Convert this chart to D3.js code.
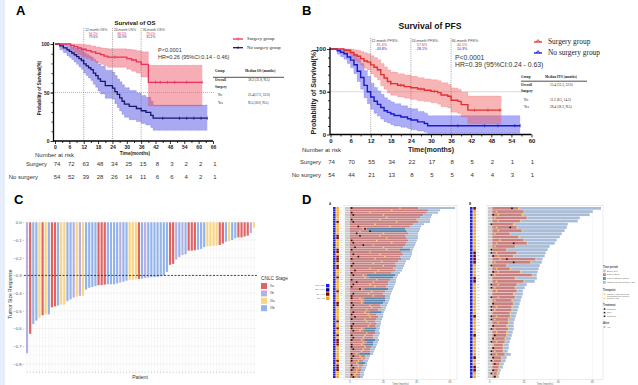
<!DOCTYPE html>
<html><head><meta charset="utf-8">
<script src="https://cdn.jsdelivr.net/npm/d3@7"></script>
<style>body{margin:0;background:#fff}svg{display:block}</style>
</head><body><svg id="c" width="638" height="385"></svg>
<script>
// ---------------- DATA ----------------
// Panel A: OS Kaplan-Meier (time in months, survival %)
const osSurgT=[0,6.5,8,9.5,11,13,15,17,19,20.5,22,30,32,34,36,39];
const osSurgS=[100,98.6,97.3,95.9,94.6,93.2,91.8,90.4,89,87.6,86.5,85,83.5,81.5,79,60.5];
const osSurgU=[100,100,100,100,99.5,99,98,97,96,95.5,95,94.5,94,93,92,78];
const osSurgL=[100,94,91.5,89,87,85,83,81,79,77.5,76,74,72,70,66,36];
const osSurgEnd=61.5, osSurgCens=[25,42,44,47,50,55,61.5];
const osNoT=[0,2,3.5,5,6,7,8,9,10,11,12,13,14,15,16,17,18,19,21,24,25,26,27,28,29,31,34,36,38,40,41];
const osNoS=[100,98,96,94,92.5,90.7,88.9,87,85,83,79.6,77.5,75.5,73.5,70,67.5,64,61.5,57,54.5,51,48,44.5,41,38,35.7,33.5,31.2,29.6,26.5,23.5];
const osNoU=[100,100,100,99,98,97,96,95,94,93,91,89.5,88,86.5,84,82,79.5,77,73,71,67.5,64,61,58,55,52,49.5,47,45,41,37];
const osNoL=[100,94,91,88,86,84,81.5,79,76.5,74,70,67.5,65,62.5,58.5,55.5,51.5,48.5,44,43,38.5,34.5,31,27.5,24.5,22,20,18,16.5,14,11];
const osNoEnd=63.6, osNoCens=[45,52,55,58,61,63.6];
const osRiskTimes=[0,6,12,18,24,30,36,42,48,54,60,66];
const osRiskSurg=[74,72,63,48,34,25,15,8,3,2,2,1];
const osRiskNo=[54,52,39,28,26,14,11,6,6,4,2,1];
const osMarks=[12,24,36];
const osMarkSurg=["94.2%","86.5%","79.0%"], osMarkNo=["79.6%","56.9%","31.2%"];
const osTable=[["Overall","38.3 (31.8, NA)"],["Surgery",""],["No","25.4(17.3, 33.0)"],["Yes","NA (30.0, NA)"]];

// Panel B: PFS Kaplan-Meier
const pfsSurgT=[0,4,6,7,8,9,10,11,12,13,14,15,16,17,18,20,22,24,26,28,30,32,33,35,36,38,39,41];
const pfsSurgS=[100,98.6,95.8,93,91.6,88.8,86,84.6,81.4,78.6,75.8,70,66,62,59.5,57.6,56,54.6,53.2,51.8,50.4,49,46.2,44.8,40.1,38.7,35,28.5];
const pfsSurgU=[100,100,100,99,98.5,97,95.5,94.5,92,90,87.5,83,79,75.5,73,71,69.5,68,66.5,65,64,63,60.5,58.5,54.5,53,49.5,45];
const pfsSurgL=[100,95,90,86.5,84.5,81,77.5,75.5,71,67.5,64,57,53,48.5,46,44,42.5,41,39.5,38.5,37,35.5,32.5,31,26,24.5,20.5,12.5];
const pfsSurgEnd=51, pfsSurgCens=[18,21,27,31,43,47,50.5];
const pfsNoT=[0,2,3,4,5,6,7,8,9,10,11,12,13,14,15,16,17,18,19,21,23,24,26,28,29];
const pfsNoS=[100,98,96.2,94.4,90.7,87,81.5,74,66.7,57.4,50,43.8,38.9,35.2,31.5,27.8,25.9,24,22.2,20.4,18.5,17,14.8,12.8,10.3];
const pfsNoU=[100,100,100,100,99,97,94,89,83,75,68,60,55,51,47,43,40,38,36,33.5,31,30,27,25,22];
const pfsNoL=[100,94,91,88,83,78,71,62,53,43,36,29.5,25,21.5,18,15,13.5,11.5,10,8.5,7,5.5,4,2.5,1.5];
const pfsNoEnd=56.6, pfsNoCens=[38,46,50,55,56.6];
const pfsRiskTimes=[0,6,12,18,24,30,36,42,48,54,60];
const pfsRiskSurg=[74,70,55,34,22,17,8,5,2,1,1];
const pfsRiskNo=[54,44,21,13,8,5,5,4,4,3,1];
const pfsMarks=[12,24,36];
const pfsMarkSurg=["81.4%","57.6%","40.1%"], pfsMarkNo=["43.8%","28.1%","10.3%"];
const pfsTable=[["Overall","15.4 (13.3, 22.0)"],["Surgery",""],["No","11.2 (8.5, 14.2)"],["Yes","28.4 (18.3, NA)"]];

// Panel C: waterfall
const tumorResponse=[-0.74,-0.63,-0.575,-0.555,-0.54,-0.525,-0.52,-0.52,-0.48,-0.475,-0.47,-0.465,-0.465,-0.445,-0.435,-0.425,-0.42,-0.415,-0.415,-0.38,-0.37,-0.365,-0.36,-0.355,-0.355,-0.352,-0.35,-0.35,-0.35,-0.345,-0.34,-0.335,-0.33,-0.325,-0.325,-0.322,-0.32,-0.318,-0.315,-0.312,-0.31,-0.31,-0.308,-0.305,-0.3,-0.28,-0.24,-0.235,-0.21,-0.195,-0.185,-0.18,-0.16,-0.16,-0.158,-0.155,-0.15,-0.14,-0.135,-0.135,-0.132,-0.13,-0.128,-0.12,-0.11,-0.105,-0.1,-0.09,-0.085,-0.085,-0.08,-0.075,-0.06,-0.03];
const cnlcStage=["IIb","IIa","IIIb","IIIb","IIIa","IIa","IIIa","IIIb","IIa","IIa","IIIb","IIIa","IIIa","IIIb","IIIb","IIb","IIIa","IIb","IIIa","IIIb","IIIb","IIIb","IIIb","IIa","IIa","IIa","IIIb","IIIb","IIIb","IIIb","IIb","IIIb","IIIb","IIIa","IIIa","IIIa","IIa","IIIb","IIb","IIIb","IIIb","IIIb","IIIb","IIIb","IIIb","IIIb","IIa","IIa","IIb","IIIb","IIb","IIIb","IIa","IIa","IIa","IIIb","IIIb","IIIb","IIIa","IIIa","IIIa","IIIa","IIa","IIa","IIIb","IIIa","IIIb","IIIb","IIa","IIa","IIa","IIa","IIb","IIIa"];
const stageNames=["IIa","IIb","IIIa","IIIb"];
const yTicksC=[0,-0.1,-0.2,-0.3,-0.4,-0.5,-0.6,-0.7,-0.8];

// Panel D: swimmer plots
const leftEnd=[63,54,52.8,49.2,48.6,48,48,44.4,42.6,42,41.4,40.8,40.8,40.8,40.2,39.6,39,38.4,37.8,37.2,37.2,36.6,36,33.6,33,32.4,31.8,31.2,30,28.8,28.2,27.6,27.6,27,26.4,25.8,25.2,24.6,24,24,23.4,22.8,22.2,21.6,21,20.4,19.8,19.8,19.2,18.6,18.6,18,18,17.4,18,17.4,16.8,17.4,16.8,16.2,15.6,15,14.4,13.8,12,11.4,10.8,10.2,10.2,9.6,9,8.4,8.4,7.8];
const leftRedEnd=[41,47,46,44,42,40,41,38,36,10,12,35,33,34,35,34,33,32,30,31,32,30,31,29,27,28,26,27,25,10,11,24,23,23,22,9,21,20,21,8,9,8,18,19,17,12,16,17,16,15,16,15,9,8,15,14,14,9,10,9,13,12,12,6,9,9,8,5,8,7,7,6,6,6];
const leftBlueEnd=[0,0,0,0,0,0,0,0,0,33,34,0,0,0,0,0,0,0,36,0,0,0,0,0,0,0,0,0,0,27,26,0,0,0,0,23,0,0,0,21,21,20,0,0,0,19,0,0,0,0,0,0,16,15,0,0,0,15,14,14,0,0,0,12,0,0,0,9,0,0,0,0,0,0];
const leftYellow=[30,25,12,20,22,18,28,15,24,8,6,20,18,22,16,25,14,20,22,12,18,21,15,19,14,20,12,17,15,8,9,16,14,12,15,7,13,11,14,6,7,7,12,13,10,9,11,12,9,10,12,11,7,6,10,9,8,7,8,7,9,8,7,4,6,7,5,4,5,5,4,4,3,4];
const leftBlack=[1,null,1,2,null,1,2,null,5,9,12,4,6,null,1,2,8,3,1,null,2,5,1,null,2,1,null,3,1,2,null,1,4,2,1,6,null,2,1,1,null,1,2,1,null,2,1,3,1,null,2,1,1,2,null,1,2,1,null,1,1,2,null,1,2,1,1,null,1,2,1,null,1,2];
const leftDarkRows=[6,12,13,18,19,21,22,23,25,26,30,36,41,42,49,52,55,57,58,59,66,68,69,70];
const rightEnd=[65,60.2,58.4,52.6,51.4,45.6,45,43.8,42.1,40.9,39.1,38,35,33.9,32.7,32.1,30.9,30.4,29.2,28.6,28,27.5,27.5,26.3,21.6,20.4,19.3,19.3,18.7,18.1,17.5,17,16.4,15.8,15.2,14.6,14,14,14,13.4,12.9,12.3,11.7,11.1,11.1,10.5,12.3,9.9,9.3,8.2,7.6,6.4,5.8,5.3];
const rightRedEnd=[17,20,19,22,18,14,16,19,12,17,20,22,15,10,16,14,27,24,10,12,18,25,15,20,16,15,16,14,15,13,14,13,13,12,12,11,11,10,11,10,10,9,9,8,8,8,9,7,7,6,5.5,5,4.5,4];
const rightYellow2=[null,4,5,3,5,null,4,5,3,null,6,4,3,null,4,5,6,3,null,4,5,3,null,4,5,3,4,null,5,3,null,4,3,null,4,3,5,null,3,4,null,3,4,2,null,3,4,null,2,3,null,2,2,null];
const rightBlack=[13,null,2,null,null,1,12,null,null,null,null,14,null,1,1,2,10,14,1,null,2,1,null,null,1,1,null,null,1,null,2,1,1,null,1,1,null,2,1,null,3,2,1,null,2,1,1,2,1,3,null,2,1,3];
const rightDarkRows=[0,14,15,16,17,22,23,34,40,47,50,51];
const swimTicks=[0,20,40,60];
const stripLegend=[["Sex: Male","#1a1aff"],["Sex: Fem.","#000080"],["SLA: Yes","#8b0000"],["SLA: No","#ffa500"]];
const periodLegend=[["Before SLa","#c9c9c9"],["Before PD/LT","#c98080"],["Post TACE after surgery","#5b86ad"],["Change PD after surgery / OS","#a9bcd8"]];

// ---------------- HELPERS ----------------
const SANS='"Liberation Sans", Arial, sans-serif', SERIF='"Liberation Serif", "Times New Roman", serif';
const svg=d3.select("#c");
svg.append("rect").attr("width",638).attr("height",385).attr("fill","#fff");
svg.append("rect").attr("x",0).attr("y",0).attr("width",5).attr("height",385).attr("fill","#e6eef9");
function txt(g,x,y,s,o={}){
  const t=g.append("text").attr("x",x).attr("y",y).text(s)
    .attr("font-size",o.size||5).attr("fill",o.fill||"#222")
    .attr("text-anchor",o.anchor||"start").attr("dominant-baseline",o.base||"middle")
    .style("font-family",o.family||SANS);
  if(o.bold)t.attr("font-weight","bold");
  if(o.rotate)t.attr("transform",`rotate(${o.rotate},${x},${y})`);
  return t;
}
function stepAt(T,S,t){let v=S[0];for(let i=0;i<T.length;i++){if(T[i]<=t)v=S[i];}return v;}
function kmData(T,S,U,L,end){const p=T.map((t,i)=>({t,s:S[i],u:U[i],l:L[i]}));const last=p[p.length-1];p.push({t:end,s:last.s,u:last.u,l:last.l});return p;}
function drawBand(g,x,y,pts,fill,stroke){
  g.append("path").attr("d",d3.area().curve(d3.curveStepAfter).x(d=>x(d.t)).y0(d=>y(d.l)).y1(d=>y(d.u))(pts))
   .attr("fill",fill).attr("fill-opacity",0.45);
  ["u","l"].forEach(k=>g.append("path").attr("d",d3.line().curve(d3.curveStepAfter).x(d=>x(d.t)).y(d=>y(d[k]))(pts))
   .attr("fill","none").attr("stroke",stroke).attr("stroke-width",0.5).attr("stroke-dasharray","0.8,0.8").attr("opacity",0.8));
}
function drawCurve(g,x,y,pts,col,T,S,cens,w){
  g.append("path").attr("d",d3.line().curve(d3.curveStepAfter).x(d=>x(d.t)).y(d=>y(d.s))(pts))
   .attr("fill","none").attr("stroke",col).attr("stroke-width",w);
  cens.forEach(c=>{const v=stepAt(T,S,c);g.append("line").attr("x1",x(c)).attr("x2",x(c)).attr("y1",y(v)-1.6).attr("y2",y(v)+1.6).attr("stroke",col).attr("stroke-width",0.7);});
}
function kmAxes(g,x,y,xt,xm,x0,fs){
  const y0=y(0);
  const a=g.append("g").attr("transform",`translate(0,${y0})`).call(d3.axisBottom(x).tickValues(xt).tickSize(3).tickPadding(1));
  a.select(".domain").remove();
  a.selectAll("text").attr("font-size",fs).attr("font-weight","bold").attr("fill","#222").style("font-family",SANS);
  const m=g.append("g").attr("transform",`translate(0,${y0})`).call(d3.axisBottom(x).tickValues(xm).tickSize(2).tickFormat(""));
  m.select(".domain").remove();
  g.append("line").attr("x1",x0).attr("x2",x(xt[xt.length-1])).attr("y1",y0).attr("y2",y0).attr("stroke","#000").attr("stroke-width",1.3);
  const b=g.append("g").attr("transform",`translate(${x0},0)`).call(d3.axisLeft(y).tickValues([0,50,100]).tickSize(3).tickPadding(1));
  b.select(".domain").remove();
  b.selectAll("text").attr("font-size",fs).attr("font-weight","bold").attr("fill","#222").style("font-family",SANS);
  const bm=g.append("g").attr("transform",`translate(${x0},0)`).call(d3.axisLeft(y).tickValues(d3.range(10,100,10)).tickSize(2).tickFormat(""));
  bm.select(".domain").remove();
  g.append("line").attr("x1",x0).attr("x2",x0).attr("y1",y(0)+0.6).attr("y2",y(102)).attr("stroke","#000").attr("stroke-width",1.3);
  g.selectAll(".tick line").attr("stroke","#000").attr("stroke-width",0.8);
}

// ---------------- PANEL A ----------------
const gA=svg.append("g");
txt(gA,16,12,"A",{size:13,bold:true,fill:"#000"});
const xA=d3.scaleLinear().domain([0,66]).range([55,213]);
const yA=d3.scaleLinear().domain([0,100]).range([141,44]);
txt(gA,135,23,"Survival of OS",{size:6,bold:true,anchor:"middle",fill:"#111"});
const osS=kmData(osSurgT,osSurgS,osSurgU,osSurgL,osSurgEnd), osN=kmData(osNoT,osNoS,osNoU,osNoL,osNoEnd);
drawBand(gA,xA,yA,osN,"#4040e0","#4040e0");
drawBand(gA,xA,yA,osS,"#ea4a5a","#ea4a5a");
gA.append("line").attr("x1",xA(0)).attr("x2",215).attr("y1",yA(50)).attr("y2",yA(50)).attr("stroke","#888").attr("stroke-width",0.6).attr("stroke-dasharray","1,1");
osMarks.forEach((m,i)=>{
  gA.append("line").attr("x1",xA(m)).attr("x2",xA(m)).attr("y1",28).attr("y2",yA(0)).attr("stroke","#666").attr("stroke-width",0.6).attr("stroke-dasharray","1,1.2");
  txt(gA,xA(m)+1.5,30,m+"-month OS%:",{size:3.2,fill:"#444"});
  txt(gA,xA(m)+5,33.8,osMarkSurg[i],{size:3.2,fill:"#e8325a"});
  txt(gA,xA(m)+5,37.4,osMarkNo[i],{size:3.2,fill:"#2a2aa0"});
});
drawCurve(gA,xA,yA,osN,"#16166e",osNoT,osNoS,osNoCens,1.3);
drawCurve(gA,xA,yA,osS,"#e8325a",osSurgT,osSurgS,osSurgCens,1.3);
kmAxes(gA,xA,yA,d3.range(0,67,6),d3.range(3,67,6),53.5,5);
txt(gA,40,88,"Probability of Survival(%)",{size:4.5,bold:true,anchor:"middle",rotate:-90,fill:"#222"});
txt(gA,135,154,"Time(months)",{size:4.6,bold:true,anchor:"middle"});
[["Surgery group","#e8325a",39],["No surgery group","#16166e",47.7]].forEach(d=>{
  gA.append("line").attr("x1",233).attr("x2",243).attr("y1",d[2]).attr("y2",d[2]).attr("stroke",d[1]).attr("stroke-width",1.3);
  gA.append("line").attr("x1",238).attr("x2",238).attr("y1",d[2]-1.5).attr("y2",d[2]+1.5).attr("stroke",d[1]).attr("stroke-width",0.7);
  txt(gA,247,d[2],d[0],{size:4.8,family:SERIF,fill:"#222"});
});
txt(gA,158,51,"P<0.0001",{size:5.5,fill:"#333"});
txt(gA,158,57.3,"HR=0.26 (95%CI:0.14 - 0.46)",{size:5.5,fill:"#333"});
txt(gA,215,71.7,"Group",{size:3.4,bold:true,family:SERIF});
txt(gA,245,71.7,"Median OS (months)",{size:3.4,bold:true,family:SERIF});
gA.append("line").attr("x1",213).attr("x2",284).attr("y1",77.3).attr("y2",77.3).attr("stroke","#222").attr("stroke-width",0.8);
[80.5,87.7,95.7,103.3].forEach((yy,i)=>{
  const r=osTable[i];
  txt(gA,i>1?218:215,yy,r[0],{size:3.4,bold:i<2,family:SERIF});
  if(r[1])txt(gA,248,yy,r[1],{size:3.4,family:SERIF});
});
txt(gA,35,155.7,"Number at risk",{size:6,fill:"#333"});
txt(gA,47,164,"Surgery",{size:6,anchor:"end",fill:"#333"});
txt(gA,38,177,"No surgery",{size:6,anchor:"end",fill:"#333"});
osRiskTimes.forEach((t,i)=>{
  txt(gA,xA(t)+2,164,osRiskSurg[i],{size:6,anchor:"middle",fill:"#333"});
  txt(gA,xA(t)+2,177,osRiskNo[i],{size:6,anchor:"middle",fill:"#333"});
});

// ---------------- PANEL B ----------------
const gB=svg.append("g");
txt(gB,302,12,"B",{size:13,bold:true,fill:"#000"});
const xB=d3.scaleLinear().domain([0,60]).range([330.5,531.5]);
const yB=d3.scaleLinear().domain([0,100]).range([134.5,49]);
txt(gB,430,27,"Survival of PFS",{size:8.6,bold:true,anchor:"middle",fill:"#111"});
const pS=kmData(pfsSurgT,pfsSurgS,pfsSurgU,pfsSurgL,pfsSurgEnd), pN=kmData(pfsNoT,pfsNoS,pfsNoU,pfsNoL,pfsNoEnd);
drawBand(gB,xB,yB,pN,"#4848f0","#4848f0");
drawBand(gB,xB,yB,pS,"#f05a5a","#f05a5a");
gB.append("line").attr("x1",xB(0)).attr("x2",531).attr("y1",yB(50)).attr("y2",yB(50)).attr("stroke","#888").attr("stroke-width",0.6).attr("stroke-dasharray","1,1");
pfsMarks.forEach((m,i)=>{
  gB.append("line").attr("x1",xB(m)).attr("x2",xB(m)).attr("y1",38).attr("y2",yB(0)).attr("stroke","#666").attr("stroke-width",0.6).attr("stroke-dasharray","1,1.2");
  txt(gB,xB(m)+0.5,41,m+"-month PFS%:",{size:3.6,fill:"#444"});
  txt(gB,xB(m)+6,44.8,pfsMarkSurg[i],{size:3.6,fill:"#e03030"});
  txt(gB,xB(m)+6,48.6,pfsMarkNo[i],{size:3.6,fill:"#2020c0"});
});
drawCurve(gB,xB,yB,pN,"#1a1acc",pfsNoT,pfsNoS,pfsNoCens,1.4);
drawCurve(gB,xB,yB,pS,"#e03030",pfsSurgT,pfsSurgS,pfsSurgCens,1.4);
kmAxes(gB,xB,yB,d3.range(0,61,6),d3.range(3,61,6),330,6);
txt(gB,314,92,"Probability of Survival(%)",{size:7,bold:true,anchor:"middle",rotate:-90,fill:"#222"});
txt(gB,431,150,"Time(months)",{size:7,bold:true,anchor:"middle"});
[["Surgery group","#e03030",42],["No surgery group","#1a1acc",53]].forEach(d=>{
  gB.append("line").attr("x1",534).attr("x2",542).attr("y1",d[2]).attr("y2",d[2]).attr("stroke",d[1]).attr("stroke-width",1.3);
  gB.append("path").attr("d",`M536,${d[2]}L538,${d[2]-2.4}L540,${d[2]}`).attr("fill","none").attr("stroke",d[1]).attr("stroke-width",0.9);
  txt(gB,548,d[2],d[0],{size:7.4,family:SERIF,fill:"#222"});
});
txt(gB,455,58.3,"P<0.0001",{size:6.8,fill:"#333"});
txt(gB,455,65.5,"HR=0.39 (95%CI:0.24 - 0.63)",{size:6.8,fill:"#333"});
txt(gB,521,77.7,"Group",{size:3.4,bold:true,family:SERIF});
txt(gB,545,77.7,"Median PFS (months)",{size:3.4,bold:true,family:SERIF});
gB.append("line").attr("x1",521).attr("x2",587).attr("y1",81.2).attr("y2",81.2).attr("stroke","#222").attr("stroke-width",0.8);
[85,91.7,100,107.7].forEach((yy,i)=>{
  const r=pfsTable[i];
  txt(gB,i>1?524:521,yy,r[0],{size:3.4,bold:i<2,family:SERIF});
  if(r[1])txt(gB,550,yy,r[1],{size:3.4,family:SERIF});
});
txt(gB,302,150,"Number at risk",{size:6,fill:"#333"});
txt(gB,321,162,"Surgery",{size:6,anchor:"end",fill:"#333"});
txt(gB,321,175,"No surgery",{size:6,anchor:"end",fill:"#333"});
pfsRiskTimes.forEach((t,i)=>{
  txt(gB,xB(t)+1,162,pfsRiskSurg[i],{size:6,anchor:"middle",fill:"#333"});
  txt(gB,xB(t)+1,175,pfsRiskNo[i],{size:6,anchor:"middle",fill:"#333"});
});

// ---------------- PANEL C ----------------
const gC=svg.append("g");
txt(gC,14,201,"C",{size:13,bold:true,fill:"#000"});
const patients=tumorResponse.map((v,i)=>"P"+(i+1));
const xC=d3.scaleBand().domain(patients).range([25.5,255.5]).paddingInner(0.3).paddingOuter(0.15);
const yC=d3.scaleLinear().domain([0.02,-0.84]).range([218.8,371]);
const stageCol=d3.scaleOrdinal().domain(stageNames).range(["#e06464","#b9aee0","#f8d57e","#93b3ea"]);
d3.range(0.0,-0.85,-0.05).forEach((v,i)=>{
  gC.append("line").attr("x1",24).attr("x2",257).attr("y1",yC(v)).attr("y2",yC(v)).attr("stroke",i%2?"#f3f3f3":"#e6e6e6").attr("stroke-width",0.5);
});
patients.forEach(p=>gC.append("line").attr("x1",xC(p)+xC.bandwidth()/2).attr("x2",xC(p)+xC.bandwidth()/2).attr("y1",218).attr("y2",371).attr("stroke","#ececec").attr("stroke-width",0.5));
gC.selectAll(".bar").data(tumorResponse).enter().append("rect")
  .attr("x",(d,i)=>xC(patients[i])).attr("width",xC.bandwidth())
  .attr("y",yC(0)).attr("height",d=>yC(d)-yC(0))
  .attr("fill",(d,i)=>stageCol(cnlcStage[i]));
gC.append("line").attr("x1",24).attr("x2",257).attr("y1",yC(-0.3)).attr("y2",yC(-0.3)).attr("stroke","#222").attr("stroke-width",0.8).attr("stroke-dasharray","2,1.5");
const yAxC=gC.append("g").attr("transform","translate(24,0)").call(d3.axisLeft(yC).tickValues(yTicksC).tickSize(1.5).tickPadding(1).tickFormat(d3.format(".1f")));
yAxC.select(".domain").remove();
yAxC.selectAll("text").attr("font-size",4.2).attr("fill","#555").style("font-family",SANS);
yAxC.selectAll("line").attr("stroke","#888").attr("stroke-width",0.4);
const xAxC=gC.append("g").attr("transform","translate(0,371.5)").call(d3.axisBottom(xC).tickSize(1.5).tickFormat(""));
xAxC.select(".domain").remove();
xAxC.selectAll("line").attr("stroke","#888").attr("stroke-width",0.4);
txt(gC,11,294,"Tumor Size Response",{size:5,anchor:"middle",rotate:-90,fill:"#333"});
txt(gC,140,377.5,"Patient",{size:5,anchor:"middle",fill:"#333"});
txt(gC,261,279,"CNLC Stage",{size:4.8,fill:"#333"});
stageNames.forEach((s,i)=>{
  gC.append("rect").attr("x",261).attr("y",283+i*7.4).attr("width",6).attr("height",6).attr("fill",stageCol(s));
  txt(gC,270,286+i*7.4,s,{size:3.4,fill:"#444"});
});

// ---------------- PANEL D ----------------
const gD=svg.append("g");
txt(gD,302,201,"D",{size:13,bold:true,fill:"#000"});
function swimmer(cfg){
  const g=gD.append("g");
  const n=cfg.end.length;
  const rows=d3.scaleBand().domain(d3.range(n)).range([207,378]).paddingInner(0.14);
  const x=cfg.x;
  g.append("rect").attr("x",cfg.frame[0]).attr("y",205.5).attr("width",cfg.frame[1]-cfg.frame[0]).attr("height",174).attr("fill","none").attr("stroke","#d8d8d8").attr("stroke-width",0.5);
  cfg.ticks.forEach(t=>g.append("line").attr("x1",x(t)).attr("x2",x(t)).attr("y1",205.5).attr("y2",379.5).attr("stroke","#f0f0f0").attr("stroke-width",0.4));
  txt(g,cfg.lab[0],cfg.lab[1],cfg.labText,{size:3,bold:true,fill:"#333"});
  const h=rows.bandwidth();
  for(let i=0;i<n;i++){
    const y=rows(i);
    g.append("rect").attr("x",cfg.s1).attr("y",y).attr("width",2.6).attr("height",h).attr("fill","#2222d2");
    g.append("rect").attr("x",cfg.s1+3.3).attr("y",y).attr("width",2.6).attr("height",h).attr("fill",cfg.dark.includes(i)?"#7a0a0a":"#f5a82a");
    txt(g,cfg.s1+7.3,y+h/2,String(i+1),{size:1.9,fill:"#9a9a9a"});
    const segs=[[cfg.g0,cfg.g1,"#c9c9c9"],[cfg.g1,cfg.red[i],"#c98080"]];
    let last=cfg.red[i];
    if(cfg.blue&&cfg.blue[i]>cfg.red[i]){segs.push([cfg.red[i],cfg.blue[i],"#5b86ad"]);last=cfg.blue[i];}
    segs.push([last,cfg.end[i],"#a9bcd8"]);
    segs.forEach(s=>g.append("rect").attr("x",x(s[0])).attr("y",y).attr("width",Math.max(0,x(s[1])-x(s[0]))).attr("height",h).attr("fill",s[2]));
    const yl=cfg.yellow?cfg.yellow[i]:cfg.red[i];
    g.append("circle").attr("cx",x(yl)).attr("cy",y+h/2).attr("r",0.85).attr("fill","#f2d46a");
    if(cfg.yellow2&&cfg.yellow2[i]!=null)g.append("circle").attr("cx",x(cfg.yellow2[i])).attr("cy",y+h/2).attr("r",0.85).attr("fill","#f2d46a");
    if(cfg.black[i]!=null)g.append("rect").attr("x",x(cfg.black[i])-0.8).attr("y",y+h/2-0.8).attr("width",1.6).attr("height",1.6).attr("fill","#111");
  }
  cfg.ticks.forEach(t=>{
    g.append("line").attr("x1",x(t)).attr("x2",x(t)).attr("y1",379.5).attr("y2",380.5).attr("stroke","#888").attr("stroke-width",0.4);
    txt(g,x(t),382,String(t),{size:2.6,anchor:"middle",fill:"#666"});
  });
  txt(g,(cfg.frame[0]+cfg.frame[1])/2,384,"Time (months)",{size:2.6,anchor:"middle",fill:"#666"});
}
swimmer({end:leftEnd,red:leftRedEnd,blue:leftBlueEnd,yellow:leftYellow,black:leftBlack,dark:leftDarkRows,
  x:d3.scaleLinear().domain([-3,63]).range([345,455]),frame:[344,457],g0:-3,g1:0,s1:333,lab:[329,204],labText:"A",ticks:swimTicks});
swimmer({end:rightEnd,red:rightRedEnd,blue:null,yellow:null,yellow2:rightYellow2,black:rightBlack,dark:rightDarkRows,
  x:d3.scaleLinear().domain([-1,65]).range([488,601]),frame:[487,603],g0:-1,g1:1.5,s1:470,lab:[469,204],labText:"B",ticks:swimTicks});
stripLegend.forEach((d,i)=>{
  gD.append("rect").attr("x",326).attr("y",284+i*4.2).attr("width",3.4).attr("height",3.4).attr("fill",d[1]);
  txt(gD,325.3,285.7+i*4.2,d[0],{size:2.2,anchor:"end",fill:"#555"});
});
txt(gD,603,267,"Time period",{size:2.6,bold:true,fill:"#444"});
periodLegend.forEach((d,i)=>{
  gD.append("rect").attr("x",603).attr("y",269.5+i*3.8).attr("width",2.8).attr("height",2.8).attr("fill",d[1]);
  txt(gD,607,271+i*3.8,d[0],{size:2.1,fill:"#555"});
});
txt(gD,603,290,"Timepoint",{size:2.6,bold:true,fill:"#444"});
[["Surgery / Time after PD/","Metastasis after surgery"],["Surgery / PD",""]].forEach((d,i)=>{
  gD.append("circle").attr("cx",604.5).attr("cy",294+i*4.4).attr("r",0.9).attr("fill","#f2d46a");
  txt(gD,607,294+i*4.4,d[0],{size:2.1,fill:"#555"});
  if(d[1])txt(gD,607,296.2,d[1],{size:2.1,fill:"#555"});
});
txt(gD,603,305,"Treatment",{size:2.6,bold:true,fill:"#444"});
["Radiation","MWA","Sorafenib"].forEach((d,i)=>{
  gD.append("rect").attr("x",603.8).attr("y",308.3+i*3.6).attr("width",1.5).attr("height",1.5).attr("fill","#111");
  txt(gD,607,309+i*3.6,d,{size:2.1,fill:"#555"});
});
txt(gD,603,323,"Alive",{size:2.6,bold:true,fill:"#444"});
gD.append("path").attr("d","M603.5,327L605.5,327").attr("stroke","#333").attr("stroke-width",0.6);
txt(gD,607,327,"Yes",{size:2.1,fill:"#555"});
</script></body></html>
